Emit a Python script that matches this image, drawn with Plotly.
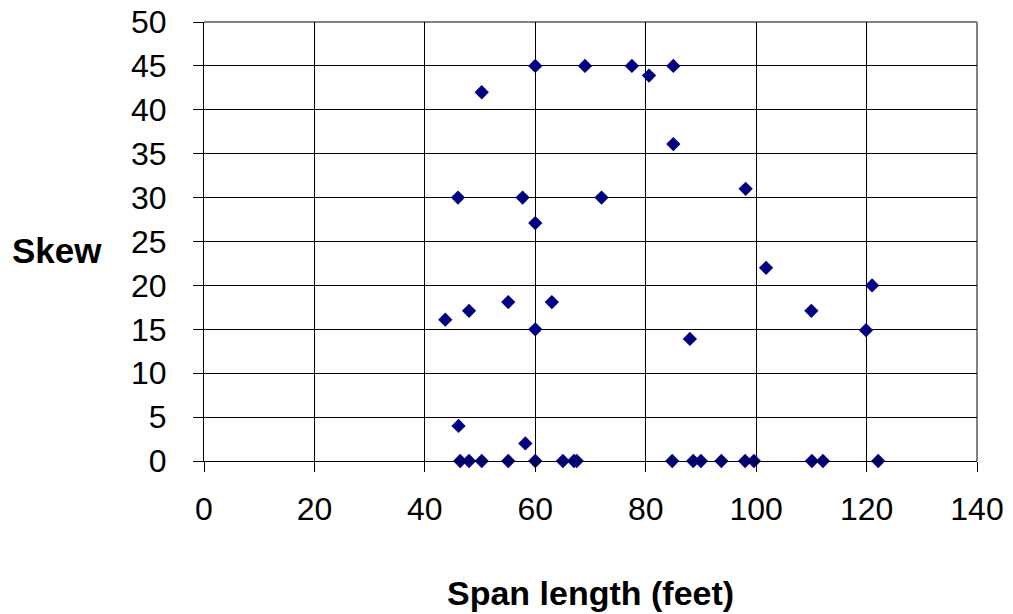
import plotly.graph_objects as go

# Span length (feet) and skew angle for each bridge
span_length = [43.7, 46.0, 46.1, 46.4, 48.0, 48.0, 50.3, 50.3, 55.1, 55.1,
               57.7, 58.2, 60.0, 60.0, 60.0, 60.0, 63.0, 65.0, 67.0, 67.5,
               69.0, 72.0, 77.5, 80.6, 85.0, 85.0, 84.8, 88.0, 88.6, 90.0,
               93.7, 98.1, 98.0, 99.6, 101.8, 110.0, 110.1, 112.1, 119.9, 121.0,
               122.1]
skew = [16.1, 30.0, 4.0, 0.0, 0.0, 17.1, 42.0, 0.0, 18.1, 0.0,
        30.0, 2.0, 45.0, 27.1, 15.0, 0.0, 18.1, 0.0, 0.0, 0.0,
        45.0, 30.0, 45.0, 43.9, 45.0, 36.1, 0.0, 13.9, 0.0, 0.0,
        0.0, 31.0, 0.0, 0.0, 22.0, 17.1, 0.0, 0.0, 14.9, 20.0,
        0.0]

x_ticks = [0, 20, 40, 60, 80, 100, 120, 140]
y_ticks = [0, 5, 10, 15, 20, 25, 30, 35, 40, 45, 50]

FONT = "Liberation Sans, Arial, sans-serif"

fig = go.Figure()
fig.add_trace(go.Scatter(
    x=span_length, y=skew, mode="markers",
    marker=dict(symbol="diamond", size=11, color="#000080", line=dict(width=0)),
    cliponaxis=False, showlegend=False,
))

fig.update_layout(
    width=1013, height=614,
    margin=dict(l=204, r=36, t=22, b=153),
    paper_bgcolor="white", plot_bgcolor="white",
    font=dict(family=FONT, color="black"),
    shapes=[
        # grey frame on top and right of plot area
        dict(type="line", xref="paper", yref="paper", x0=0, x1=1, y0=1, y1=1,
             line=dict(color="#808080", width=2), layer="below"),
        dict(type="line", xref="paper", yref="paper", x0=1, x1=1, y0=0, y1=1,
             line=dict(color="#808080", width=2), layer="below"),
    ],
    annotations=[
        dict(text="<b>Skew</b>", xref="paper", yref="paper",
             x=-0.19, y=0.48, xanchor="center", yanchor="middle",
             showarrow=False, font=dict(size=35, family=FONT)),
        dict(text="<b>Span length (feet)</b>", xref="paper", yref="paper",
             x=0.5, y=-0.30, xanchor="center", yanchor="middle",
             showarrow=False, font=dict(size=34, family=FONT)),
    ],
)

fig.update_xaxes(
    range=[0, 140], tickvals=x_ticks, ticktext=[str(v) for v in x_ticks],
    showgrid=True, gridcolor="#000000", gridwidth=1,
    showline=True, linecolor="black", linewidth=1,
    ticks="outside", ticklen=10, tickcolor="black",
    tickfont=dict(size=32, family=FONT), ticklabelstandoff=10,
    zeroline=False, automargin=False,
)
fig.update_yaxes(
    range=[0, 50], tickvals=y_ticks, ticktext=[str(v) for v in y_ticks],
    showgrid=True, gridcolor="#000000", gridwidth=1,
    showline=True, linecolor="black", linewidth=1,
    ticks="outside", ticklen=10, tickcolor="black",
    tickfont=dict(size=32, family=FONT), ticklabelstandoff=20,
    zeroline=False, automargin=False,
)

fig.write_html("out.html")
